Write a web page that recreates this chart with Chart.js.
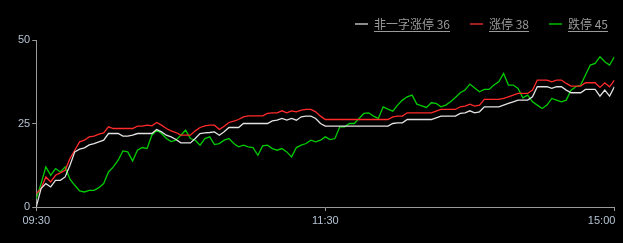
<!DOCTYPE html>
<html>
<head>
<meta charset="utf-8">
<script src="https://cdn.jsdelivr.net/npm/chart.js@4"></script>
<style>
  html, body { margin: 0; padding: 0; background: #000; }
  #wrap { width: 623px; height: 243px; }
</style>
</head>
<body>
<div id="wrap"><canvas id="limitChart" width="623" height="243"></canvas></div>
<script>
// series names and last values shown in the legend
const seriesNames = ['非一字涨停', '涨停', '跌停'];
const seriesCounts = [36, 38, 45];

// x axis = minutes of trading since 09:30 (lunch break removed), one point every 2 minutes
const stepMinutes = 2;
const xTickValues = [0, 120, 240];
const xTickLabels = ['09:30', '11:30', '15:00'];
const yTickValues = [0, 25, 50];

const nonOneWord = [
  0, 5.5, 7, 6, 8, 8, 9, 12.5, 16.5, 17.3,
  17.7, 18.6, 19, 19.5, 20, 22, 22, 22, 21.2, 21.2,
  21.5, 22, 22, 22, 22, 23.2, 22.5, 21.5, 21, 20.2,
  19.2, 19.2, 19.2, 20.5, 22, 22.2, 22.3, 22.5, 21.5, 22.5,
  23.8, 23.8, 23.8, 25, 25, 25, 25, 25, 25, 25.8,
  26, 26.5, 26, 26.5, 26, 27, 27.2, 27.2, 26.5, 25,
  24.2, 24.2, 24.2, 24.2, 24.2, 24.2, 24.2, 24.2, 24.2, 24.2,
  24.2, 24.2, 24.2, 24.2, 25, 25.2, 25.2, 26.2, 26.2, 26.2,
  26.2, 26.2, 26.2, 26.7, 27.2, 27.2, 27.2, 27.2, 28, 28.2,
  28.8, 28.2, 28.5, 30, 30, 30, 30, 30.5, 31, 31.5,
  32, 32, 32, 33, 36, 36, 36, 35.5, 36, 36,
  35, 34.2, 34.2, 34.2, 35.2, 35.2, 35.2, 33.2, 35, 33.2,
  36
];

const limitUp = [
  4, 5.5, 9, 7.5, 9.5, 10.2, 11, 14.5, 17, 19.5,
  20, 21, 21.2, 21.8, 22.2, 24, 23.5, 23.5, 23.5, 23.5,
  23.5, 24.2, 24.2, 24.5, 24.3, 25.3, 24.5, 23.5, 22.8, 22.3,
  21.5, 21.5, 21.5, 22.8, 23.8, 24.3, 24.5, 24.5, 23.2, 24.2,
  25.3, 25.7, 26.2, 27, 27.3, 27.3, 27.3, 27.3, 28, 28.2,
  28.2, 28.8, 28.2, 28.8, 28.5, 29, 29.2, 29.2, 28.5, 27.2,
  26.2, 26.2, 26.2, 26.2, 26.2, 26.2, 26.2, 26.2, 26.2, 26.2,
  26.2, 26.2, 26.2, 26.2, 27, 27.2, 27.2, 28.2, 28.2, 28.2,
  28.2, 28.2, 28.2, 28.7, 29.2, 29.2, 29.2, 29.2, 30, 30.2,
  30.8, 30.2, 30.5, 32.2, 32.2, 32.2, 32.2, 32.5, 33, 33.5,
  34, 34, 34, 35, 38, 38, 38, 37.5, 38, 38,
  37, 36.2, 36.2, 36.2, 37.2, 37.2, 37.2, 35.8, 37.2, 36,
  38
];

const limitDown = [
  2.5, 7, 12, 9.5, 11.5, 10.5, 12, 8.3, 6.5, 4.8,
  4.5, 5, 5, 5.8, 7, 10.5, 12, 14, 16.8, 16.5,
  13.8, 17, 17.8, 17.5, 21.5, 23, 22, 20.5, 19.6, 20,
  21.5, 23, 20.5, 20, 18.5, 20.5, 21, 18.7, 19, 20,
  20.5, 19, 18, 18.5, 18, 17.8, 15.5, 18.3, 18.5, 17.5,
  17, 17.5, 16.5, 15, 17.8, 18.5, 19, 20, 19.5, 20,
  21, 20.2, 20.5, 24, 24, 25, 25, 26.5, 28, 28.2,
  27.2, 26.5, 30, 29.3, 28.7, 30.5, 32, 33, 33.5, 30.8,
  30.3, 29.8, 31.2, 31, 30, 30.5, 31.5, 32.8, 34.2, 35,
  36.8, 35.6, 34.5, 35.2, 35.2, 36.5, 37.5, 40, 36.5, 36.5,
  35.5, 32.7, 33.5, 31.5, 30.5, 29.5, 30.5, 32.5, 32, 31.5,
  32, 35, 36, 36.5, 39.5, 42.5, 43, 45, 43.5, 42.5,
  45
];

const axisColor = '#9a9a9a';
const tickTextColor = '#b4c2d2';
const legendTextColor = '#9a9a9a';
const legendBoxWidth = 13;
const legendFontSize = 12;

const toPoints = values => values.map((v, i) => ({ x: i * stepMinutes, y: v }));

// x tick labels (last one right-aligned to the axis end) and underlined legend text
const extrasPlugin = {
  id: 'extras',
  afterDraw(chart) {
    const ctx = chart.ctx;
    const xScale = chart.scales.x;
    ctx.save();
    ctx.font = '11px "Liberation Sans", Arial, sans-serif';
    ctx.fillStyle = tickTextColor;
    ctx.textBaseline = 'middle';
    xTickValues.forEach((v, i) => {
      const last = i === xTickValues.length - 1;
      ctx.textAlign = last ? 'right' : 'center';
      ctx.fillText(xTickLabels[i], xScale.getPixelForValue(v) + (last ? 1 : 0), chart.chartArea.bottom + 14);
    });

    ctx.fillStyle = legendTextColor;
    chart.legend.legendHitBoxes.forEach(box => {
      const x0 = box.left + legendBoxWidth + legendFontSize / 2;
      ctx.fillRect(x0, Math.round(box.top + 13), box.left + box.width - x0, 1);
    });
    ctx.restore();
  }
};

const ctx = document.getElementById('limitChart').getContext('2d');
new Chart(ctx, {
  type: 'line',
  data: {
    datasets: [
      {
        label: seriesNames[0] + ' ' + seriesCounts[0],
        data: toPoints(nonOneWord),
        borderColor: '#e2e2e2',
        backgroundColor: '#8c8c8c',
      },
      {
        label: seriesNames[1] + ' ' + seriesCounts[1],
        data: toPoints(limitUp),
        borderColor: '#ff2a2a',
        backgroundColor: '#a01e1e',
      },
      {
        label: seriesNames[2] + ' ' + seriesCounts[2],
        data: toPoints(limitDown),
        borderColor: '#00cc00',
        backgroundColor: '#008c00',
      }
    ]
  },
  options: {
    responsive: false,
    animation: false,
    devicePixelRatio: 1,
    layout: {
      padding: { top: -3, left: 16, right: -5, bottom: 32 }
    },
    elements: {
      point: { radius: 0 },
      line: { borderWidth: 1.3, tension: 0, fill: false }
    },
    scales: {
      x: {
        type: 'linear',
        min: 0,
        max: 240,
        afterBuildTicks: scale => { scale.ticks = xTickValues.map(v => ({ value: v })); },
        afterFit: scale => { scale.paddingRight = 8.6; },
        ticks: { display: false },
        grid: { display: true, drawOnChartArea: false, drawTicks: true, tickLength: 4, color: axisColor },
        border: { display: true, color: axisColor, width: 1 }
      },
      y: {
        min: 0,
        max: 50,
        afterBuildTicks: scale => { scale.ticks = yTickValues.map(v => ({ value: v })); },
        afterFit: scale => { scale.paddingTop = 40; },
        ticks: {
          padding: 2,
          color: tickTextColor,
          font: { size: 11, family: '"Liberation Sans", Arial, sans-serif' }
        },
        grid: { display: true, drawOnChartArea: false, drawTicks: true, tickLength: 4, color: axisColor },
        border: { display: true, color: axisColor, width: 1 }
      }
    },
    plugins: {
      tooltip: { enabled: false },
      legend: {
        display: true,
        position: 'top',
        align: 'end',
        labels: {
          color: legendTextColor,
          font: { size: legendFontSize, family: '"Noto Sans CJK SC", "Liberation Sans", sans-serif' },
          boxWidth: legendBoxWidth,
          boxHeight: 2,
          padding: 20,
          generateLabels: chart => Chart.defaults.plugins.legend.labels.generateLabels(chart)
            .map(item => ({ ...item, lineWidth: 0, strokeStyle: item.fillStyle }))
        }
      }
    }
  },
  plugins: [extrasPlugin]
});
</script>
</body>
</html>
